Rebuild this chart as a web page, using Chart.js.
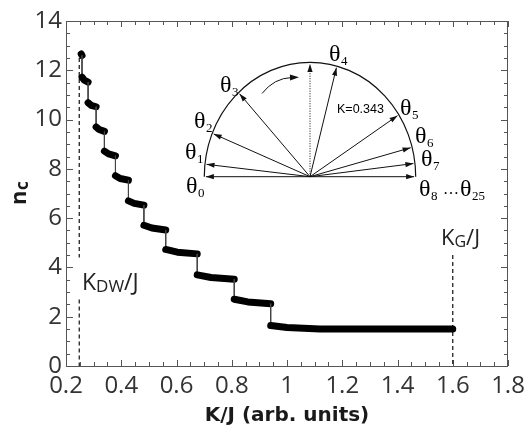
<!DOCTYPE html>
<html>
<head>
<meta charset="utf-8">
<script src="https://cdn.jsdelivr.net/npm/chart.js@4"></script>
<style>
  html, body { margin: 0; padding: 0; background: #fff; }
  #wrap { width: 525px; height: 429px; position: relative; }
</style>
</head>
<body>
<div id="wrap"><canvas id="chart"></canvas></div>
<script>
// staircase n_c(K/J) (centres of the dots)
const kJ = [0.255, 0.258, 0.258, 0.266, 0.280, 0.280, 0.291, 0.309, 0.309, 0.320, 0.339,
            0.339, 0.354, 0.379, 0.379, 0.396, 0.426, 0.426, 0.447, 0.482, 0.482, 0.511,
            0.561, 0.561, 0.603, 0.675, 0.675, 0.725, 0.809, 0.809, 0.858, 0.941, 0.941,
            1.00, 1.12, 1.60];
const nC = [12.66, 12.60, 11.72, 11.60, 11.52, 10.68, 10.58, 10.52, 9.70, 9.60, 9.52,
            8.72, 8.61, 8.53, 7.72, 7.61, 7.54, 6.70, 6.60, 6.53, 5.71, 5.60,
            5.52, 4.73, 4.62, 4.55, 3.70, 3.59, 3.52, 2.71, 2.60, 2.53, 1.64,
            1.56, 1.50, 1.50];

// the two dashed markers
const kDW = 0.248;
const kDWLineY = [12.5, 4.4, null, 2.7, 0];
const kG = 1.6;
const kGLineY = [4.5, 0];

const xTicks = [0.2, 0.4, 0.6, 0.8, 1, 1.2, 1.4, 1.6, 1.8];
const yTicks = [0, 2, 4, 6, 8, 10, 12, 14];

// inset: directions (deg) of the vectors theta_0 ... theta_8
const thetaAngles = [180, 173.7, 157.7, 132.6, 75.3, 32.8, 14.9, 6.7, 0];
const thetaSubs = ['0', '1', '2', '3', '4', '5', '6', '7', '8'];

const SANS = '"Open Sans", "DejaVu Sans", sans-serif';
const SERIF = '"Liberation Serif", "DejaVu Serif", serif';

// box round the plot with small inward ticks on all four sides
const frame = {
  id: 'frame',
  beforeDatasetsDraw(chart) {
    const { ctx, chartArea: a, scales: { x, y } } = chart;
    ctx.save();
    ctx.strokeStyle = '#555';
    ctx.lineWidth = 1;
    ctx.strokeRect(a.left + 0.5, a.top + 0.5, a.right - a.left - 1, a.bottom - a.top);
    ctx.beginPath();
    for (let i = 0; i <= 32; i++) {
      const px = Math.round(x.getPixelForValue(0.2 + i * 0.05)) + 0.5;
      const len = i % 4 === 0 ? 6 : 4;
      ctx.moveTo(px, a.bottom); ctx.lineTo(px, a.bottom - len);
      ctx.moveTo(px, a.top); ctx.lineTo(px, a.top + len);
    }
    for (let i = 0; i <= 28; i++) {
      const py = Math.round(y.getPixelForValue(i * 0.5)) + 0.5;
      const len = i % 4 === 0 ? 7 : 4;
      ctx.moveTo(a.left, py); ctx.lineTo(a.left + len, py);
      ctx.moveTo(a.right, py); ctx.lineTo(a.right - len, py);
    }
    ctx.stroke();
    ctx.restore();
  }
};

function arrowHead(ctx, x0, y0, x1, y1, len, half) {
  const ang = Math.atan2(y1 - y0, x1 - x0);
  ctx.beginPath();
  ctx.moveTo(x1, y1);
  ctx.lineTo(x1 - len * Math.cos(ang) + half * Math.sin(ang), y1 - len * Math.sin(ang) - half * Math.cos(ang));
  ctx.lineTo(x1 - len * Math.cos(ang) - half * Math.sin(ang), y1 - len * Math.sin(ang) + half * Math.cos(ang));
  ctx.closePath();
  ctx.fill();
}

function theta(ctx, x, base, sub) {
  ctx.font = '24px ' + SERIF;
  ctx.fillText('\u03b8', x, base);
  const w = ctx.measureText('\u03b8').width;
  ctx.font = '13px ' + SERIF;
  ctx.fillText(sub, x + w + 0.5, base + 4);
}

const texts = {
  id: 'texts',
  afterDraw(chart) {
    const { ctx, chartArea: a } = chart;
    ctx.save();
    ctx.textBaseline = 'alphabetic';
    ctx.textAlign = 'left';

    // x title
    ctx.fillStyle = '#1a1a1a';
    ctx.font = 'bold 20px "DejaVu Sans", sans-serif';
    ctx.textAlign = 'center';
    ctx.fillText('K/J (arb. units)', (a.left + a.right) / 2, 421);
    ctx.textAlign = 'left';

    // y title n_c
    ctx.save();
    ctx.translate(26, 205);
    ctx.rotate(-Math.PI / 2);
    ctx.font = 'bold 22px ' + SANS;
    ctx.fillText('n', 0, 0);
    const nw = ctx.measureText('n').width;
    ctx.font = 'bold 17px ' + SANS;
    ctx.fillText('c', nw + 0.5, 2);
    ctx.restore();

    // K_DW/J and K_G/J
    ctx.fillStyle = '#222';
    let x = 82;
    ctx.font = '23px ' + SANS;
    ctx.fillText('K', x, 290); x += ctx.measureText('K').width;
    ctx.font = '17px ' + SANS;
    ctx.fillText('DW', x, 292); x += ctx.measureText('DW').width;
    ctx.font = '23px ' + SANS;
    ctx.fillText('/J', x, 290);

    x = 441;
    ctx.font = '22px ' + SANS;
    ctx.fillText('K', x, 245); x += ctx.measureText('K').width;
    ctx.font = '16px ' + SANS;
    ctx.fillText('G', x, 247); x += ctx.measureText('G').width;
    ctx.font = '22px ' + SANS;
    ctx.fillText('/J', x, 245);

    // inset: half ellipse with spin vectors
    const cx = 310, cy = 176.7, rx = 105.7, ry = 114.4;
    ctx.strokeStyle = '#111';
    ctx.fillStyle = '#111';
    ctx.lineWidth = 1.2;
    ctx.beginPath();
    ctx.ellipse(cx, cy, rx, ry, 0, Math.PI, 2 * Math.PI);
    ctx.stroke();

    ctx.lineWidth = 1;
    thetaAngles.forEach((deg) => {
      const t = deg * Math.PI / 180;
      const ex = cx + 0.985 * rx * Math.cos(t);
      const ey = cy - 0.985 * ry * Math.sin(t);
      ctx.beginPath();
      ctx.moveTo(cx, cy);
      ctx.lineTo(ex, ey);
      ctx.stroke();
      arrowHead(ctx, cx, cy, ex, ey, 8, 2.6);
    });
    // dotted vertical
    ctx.save();
    ctx.setLineDash([1, 1.5]);
    ctx.beginPath();
    ctx.moveTo(cx, cy);
    ctx.lineTo(cx, cy - 0.985 * ry);
    ctx.stroke();
    ctx.restore();
    arrowHead(ctx, cx, cy, cx, cy - 0.985 * ry, 8, 2.6);

    // curved arrow
    ctx.beginPath();
    ctx.moveTo(262, 93.5);
    ctx.quadraticCurveTo(274, 78, 292, 77.5);
    ctx.stroke();
    arrowHead(ctx, 286, 77.6, 299, 77.3, 9, 3);

    // labels
    ctx.fillStyle = '#000';
    const labelPos = [[186, 193], [185, 159], [194, 128], [220, 92], [329, 61],
                      [400, 115], [415, 143], [421, 166], [419, 196]];
    labelPos.forEach((p, i) => theta(ctx, p[0], p[1], thetaSubs[i]));
    ctx.font = '16px ' + SERIF;
    ctx.fillText('\u2026', 443, 194);
    theta(ctx, 460, 196, '25');

    ctx.font = '12.5px "Liberation Sans", Arial, sans-serif';
    ctx.fillText('K=0.343', 337, 113);
    ctx.restore();
  }
};

new Chart(document.getElementById('chart'), {
  type: 'line',
  data: {
    datasets: [
      {
        label: 'n_c',
        data: kJ.map((k, i) => ({ x: k, y: nC[i] })),
        borderColor: '#000',
        borderWidth: 7,
        borderCapStyle: 'round',
        borderJoinStyle: 'round',
        pointRadius: 0,
        tension: 0,
        segment: {
          borderWidth: (c) => (c.p0.parsed.x === c.p1.parsed.x ? 1 : 7),
          borderColor: (c) => (c.p0.parsed.x === c.p1.parsed.x ? '#444' : '#000')
        }
      },
      {
        label: 'K_DW',
        data: kDWLineY.map((v) => ({ x: kDW, y: v })),
        borderColor: '#222',
        borderWidth: 1.3,
        borderDash: [4, 3],
        pointRadius: 0,
        spanGaps: false
      },
      {
        label: 'K_G',
        data: kGLineY.map((v) => ({ x: kG, y: v })),
        borderColor: '#222',
        borderWidth: 1.3,
        borderDash: [4, 3],
        pointRadius: 0
      }
    ]
  },
  options: {
    responsive: true,
    maintainAspectRatio: false,
    animation: false,
    layout: { padding: { left: 0, right: 17, top: 21, bottom: 0 } },
    plugins: { legend: { display: false }, tooltip: { enabled: false } },
    scales: {
      x: {
        type: 'linear',
        min: 0.2,
        max: 1.8,
        afterFit: (s) => { s.height = 63; s.paddingLeft = 0; s.paddingRight = 0; },
        afterBuildTicks: (s) => { s.ticks = xTicks.map((v) => ({ value: v })); },
        grid: { display: false, drawTicks: false },
        border: { display: false },
        ticks: {
          color: '#333', padding: 6, maxRotation: 0,
          font: { family: SANS, size: 24 },
          callback: (v) => String(v)
        }
      },
      y: {
        type: 'linear',
        min: 0,
        max: 14,
        afterFit: (s) => { s.width = 66; s.paddingTop = 0; s.paddingBottom = 0; },
        afterBuildTicks: (s) => { s.ticks = yTicks.map((v) => ({ value: v })); },
        grid: { display: false, drawTicks: false },
        border: { display: false },
        ticks: { color: '#333', padding: 4, font: { family: SANS, size: 24 } }
      }
    }
  },
  plugins: [frame, texts]
});
</script>
</body>
</html>
